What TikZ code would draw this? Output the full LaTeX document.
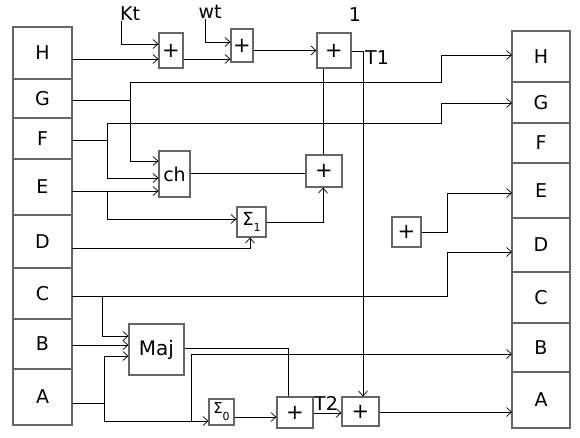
\documentclass[tikz,border=0pt]{standalone}
\usepackage{fontspec}
\setmainfont{DejaVu Sans}
\usetikzlibrary{arrows.meta}
\begin{document}
\begin{tikzpicture}[x=1pt,y=-1pt,
  cell/.style={draw=black!60,line width=1.1pt,outer sep=0pt,minimum width=59pt,inner sep=0pt,anchor=north west,font=\fontsize{19}{21}\selectfont},
  rcell/.style={cell,minimum width=58pt},
  opbox/.style={draw=black!60,line width=1.1pt,inner sep=0pt,font=\fontsize{21}{22}\selectfont},
  sbox/.style={opbox,font=\fontsize{18}{18}\selectfont},
  lbl/.style={inner sep=0pt,font=\fontsize{19}{21}\selectfont},
  wire/.style={line width=0.8pt,black},
  arr/.style={wire,-{Straight Barb[length=5pt,width=9pt,line width=0.7pt]}}]
\useasboundingbox (0,0) rectangle (580,437);
% left register
\node[cell,minimum height=52pt] (LH) at (13,27) {H};
\node[cell,minimum height=39pt] (LG) at (LH.south west) {G};
\node[cell,minimum height=41pt] (LF) at (LG.south west) {F};
\node[cell,minimum height=56pt] (LE) at (LF.south west) {E};
\node[cell,minimum height=53pt] (LD) at (LE.south west) {D};
\node[cell,minimum height=51pt] (LC) at (LD.south west) {C};
\node[cell,minimum height=50pt] (LB) at (LC.south west) {B};
\node[cell,minimum height=56pt] (LA) at (LB.south west) {A};
% right register
\node[rcell,minimum height=51pt] (RH) at (512,31) {H};
\node[rcell,minimum height=41pt] (RG) at (RH.south west) {G};
\node[rcell,minimum height=40pt] (RF) at (RG.south west) {F};
\node[rcell,minimum height=55pt] (RE) at (RF.south west) {E};
\node[rcell,minimum height=54pt] (RD) at (RE.south west) {D};
\node[rcell,minimum height=51pt] (RC) at (RD.south west) {C};
\node[rcell,minimum height=49pt] (RB) at (RC.south west) {B};
\node[rcell,minimum height=56pt] (RA) at (RB.south west) {A};
% operator boxes
\node[opbox,minimum width=24pt,minimum height=35pt] (a1) at (171,50.5) {+};
\node[opbox,minimum width=22pt,minimum height=33pt] (a2) at (242,45.5) {+};
\node[opbox,minimum width=34pt,minimum height=35pt] (a3) at (334,50.5) {+};
\node[opbox,minimum width=36pt,minimum height=32pt] (a4) at (324,171) {+};
\node[opbox,minimum width=31pt,minimum height=46pt,font=\fontsize{19}{21}\selectfont] (ch) at (174.5,174) {ch};
\node[sbox,minimum width=29pt,minimum height=30pt] (s1) at (251.5,222) {Σ\raisebox{-6pt}{\fontsize{11}{11}\selectfont 1}};
\node[opbox,minimum width=29pt,minimum height=30pt] (a5) at (406.5,232) {+};
\node[opbox,minimum width=55pt,minimum height=51pt,font=\fontsize{20}{22}\selectfont] (maj) at (156.5,349.5) {Maj};
\node[sbox,minimum width=25pt,minimum height=26pt,font=\fontsize{15}{15}\selectfont] (s0) at (221.5,412) {\raisebox{3pt}{Σ}\raisebox{-4pt}{\fontsize{11}{11}\selectfont 0}};
\node[opbox,minimum width=36pt,minimum height=31pt] (a6) at (295,412.5) {+};
\node[opbox,minimum width=37pt,minimum height=29pt] (a7) at (360.5,411.5) {+};
% labels
\node[lbl] (Kt) at (130,14) {Kt};
\node[lbl] (wt) at (210,12) {wt};
\node[lbl] (one) at (355,15) {1};
\node[lbl] (T1) at (377,58) {T1};
\node[lbl] (T2) at (326,403) {T2};
% wires: top chain
\draw[arr] ([xshift=2pt]Kt.south west) |- (a1.west |- 0,44);
\draw[arr] (LH.east |- 0,59) -- (a1.west |- 0,59);
\draw[arr] ([xshift=-5pt]wt.south) |- (a2.west |- 0,42);
\draw[arr] (a1.east |- 0,59) -- (a2.west |- 0,59);
\draw[arr] (a2.east |- 0,50.5) -- (a3.west |- 0,50.5);
\draw[arr] (a3.east |- 0,51) -- (363,51) -- (363,0 |- a7.north);
\draw[wire] (323,0 |- a3.south) -- (323,0 |- a4.north);
\draw[wire] (ch.east |- 0,173) -- (a4.west |- 0,173);
\draw[arr] (s1.east |- 0,222) -- (323,222) -- (323,0 |- a4.south);
% G
\draw[wire] (LG.east |- 0,100) -- (130,100);
\draw[arr] (130,82) |- (ch.west |- 0,161);
\draw[arr] (130,82) -- (441,82) |- (RH.west |- 0,55);
% F
\draw[wire] (LF.east |- 0,140) -- (107,140);
\draw[arr] (107,123) |- (ch.west |- 0,178);
\draw[arr] (107,123) -- (441,123) |- (RG.west |- 0,103);
% E
\draw[arr] (LE.east |- 0,191) -- (ch.west |- 0,191);
\draw[arr] (107,191) |- (s1.west |- 0,219);
% D
\draw[arr] (LD.east |- 0,248) -| (250,0 |- s1.south);
% isolated adder
\draw[arr] (a5.east) -- (447,232) |- (RE.west |- 0,193);
% C
\draw[arr] (LC.east |- 0,296) -- (447,296) |- (RD.west |- 0,252);
\draw[arr] (102,296) |- (maj.west |- 0,336);
% B
\draw[arr] (LB.east |- 0,345) -- (maj.west |- 0,345);
% A
\draw[wire] (LA.east |- 0,403) -- (104,403);
\draw[arr] (104,421) |- (maj.west |- 0,356);
\draw[arr] (104,403) |- (s0.west |- 0,421);
\draw[arr] (191,421) |- (RB.west |- 0,354);
% bottom chain
\draw[wire] (maj.east |- 0,348) -| (288,0 |- a6.north);
\draw[arr] (s0.east |- 0,417) -- (a6.west |- 0,417);
\draw[arr] (a6.east |- 0,413) -- (a7.west |- 0,413);
\draw[arr] (a7.east |- 0,412) -- (RA.west |- 0,412);
\end{tikzpicture}
\end{document}
